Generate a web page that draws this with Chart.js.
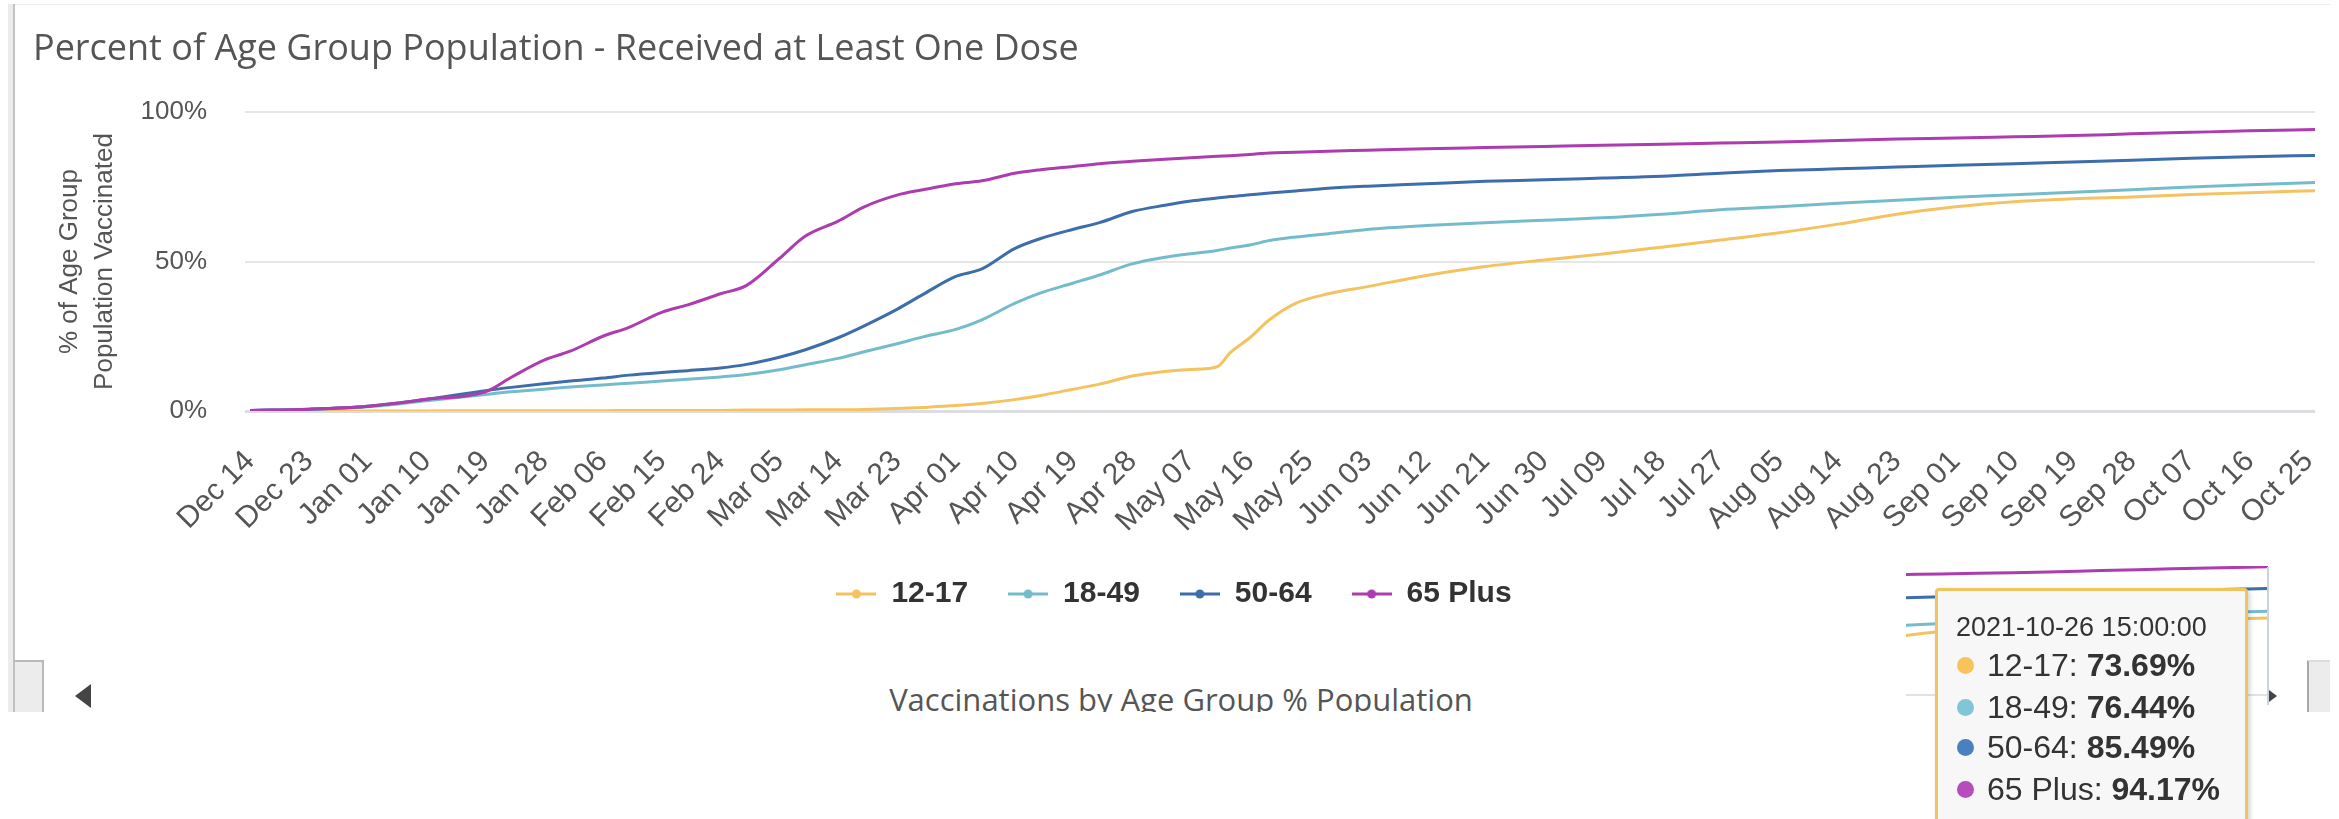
<!DOCTYPE html>
<html>
<head>
<meta charset="utf-8">
<title>Percent of Age Group Population - Received at Least One Dose</title>
<script src="https://cdn.jsdelivr.net/npm/chart.js@4.4.1/dist/chart.umd.min.js"></script>
<style>
  html, body { margin: 0; padding: 0; background: #fff; width: 2339px; height: 819px; overflow: hidden; }
  .abs { position: absolute; }
  #chartBox { left: 33px; top: 0; width: 2297px; height: 619px; }
  #miniBox { left: 1906px; top: 566px; width: 362px; height: 140px; }
  #frameTop { left: 13px; top: 4px; width: 2317px; height: 1px; background: #ececec; }
  #frameLeft { left: 13px; top: 4px; width: 2px; height: 656px; background: #c2c2c2; }
  #frameLeftShade { left: 8px; top: 4px; width: 5px; height: 708px; background: #ececec; }
  #cornerLeft { left: 13px; top: 660px; width: 31px; height: 52px; background: #ececec; border-top: 2px solid #b9b9b9; border-right: 2px solid #b9b9b9; box-sizing: border-box; border-left: 2px solid #c2c2c2; }
  #cornerRight { left: 2307px; top: 660px; width: 23px; height: 52px; background: #ececec; border-left: 2px solid #a9a9a9; border-top: 2px solid #dcdcdc; box-sizing: border-box; }
  #arrowLeft { left: 75px; top: 684px; width: 0; height: 0; border-top: 12px solid transparent; border-bottom: 12px solid transparent; border-right: 16px solid #444; }
  #arrowRight { left: 2269px; top: 690px; width: 0; height: 0; border-top: 6px solid transparent; border-bottom: 6px solid transparent; border-left: 8px solid #444; }
  #navClip { left: 0; top: 660px; width: 2339px; height: 52px; overflow: hidden; }
  #navText { position: absolute; left: 0; width: 2362px; top: 21px; text-align: center; font: 31px/36px "Open Sans", sans-serif; color: #555; }
  #hoverV { left: 2267px; top: 567px; width: 2px; height: 138px; background: #c9d2e2; }
  #hoverH { left: 1906px; top: 694px; width: 362px; height: 2px; background: #e2e2e2; }
  #tip { left: 1935px; top: 588px; width: 313px; height: 262px; box-sizing: border-box; border: 3px solid #f2c45f; border-radius: 4px; background: #f7f7f7; box-shadow: 2px 2px 5px rgba(0,0,0,0.18); font-family: "Liberation Sans", Arial, sans-serif; color: #333; }
  #tipTitle { position: absolute; left: 18px; top: 20px; font-size: 27px; line-height: 32px; white-space: nowrap; }
  .tipRow { position: absolute; left: 0; font-size: 32px; line-height: 41px; white-space: nowrap; }
  .tipRow .dot { position: absolute; left: 19px; top: 12px; width: 17px; height: 17px; border-radius: 50%; }
  .tipRow .txt { position: absolute; left: 49px; top: 0; }
  .tipRow b { font-weight: bold; }
</style>
</head>
<body>
<div id="frameTop" class="abs"></div>
<div id="frameLeftShade" class="abs"></div>
<div id="frameLeft" class="abs"></div>
<div id="cornerLeft" class="abs"></div>
<div id="cornerRight" class="abs"></div>
<div id="navClip" class="abs"><div id="navText">Vaccinations by Age Group % Population</div></div>
<div id="arrowLeft" class="abs"></div>
<div id="arrowRight" class="abs"></div>

<div id="chartBox" class="abs"><canvas id="myLineChart" width="2297" height="619"></canvas></div>

<div id="hoverH" class="abs"></div>
<div id="miniBox" class="abs"><canvas id="miniChart" width="362" height="140"></canvas></div>
<div id="hoverV" class="abs"></div>

<div id="tip" class="abs">
  <div id="tipTitle"></div>
</div>

<script>
// days after 2020-12-14
const days = [0, 9, 18, 27, 36, 40, 45, 49, 54, 58, 63, 67, 72, 76, 81, 85, 90, 94, 99, 103,
  108, 112, 117, 121, 126, 130, 135, 140, 144, 148, 150, 153, 156, 160, 165, 171, 180, 189, 198, 207,
  216, 225, 234, 243, 252, 261, 270, 279, 288, 297, 306, 316];

const age12to17 = [0, 0, 0, 0, 0.1, 0.1, 0.1, 0.1, 0.1, 0.2, 0.2, 0.2, 0.2, 0.3, 0.3, 0.4, 0.4, 0.5, 0.8, 1.2,
  1.8, 2.5, 3.8, 5.2, 7.3, 9.0, 11.7, 13.2, 13.9, 14.8, 19.5, 24.5, 30.5, 36.0, 39.2, 41.6, 45.3, 48.3, 50.5, 52.5,
  54.8, 57.2, 59.6, 62.5, 65.8, 68.3, 70.0, 71.0, 71.6, 72.4, 73.0, 73.69];

const age18to49 = [0.2, 0.5, 1.4, 3.4, 5.5, 6.4, 7.3, 8.0, 8.7, 9.3, 10.0, 10.6, 11.4, 12.2, 13.8, 15.5, 17.6, 19.8, 22.5, 24.8,
  27.3, 30.5, 36.0, 39.5, 42.8, 45.5, 49.2, 51.4, 52.6, 53.7, 54.5, 55.5, 57.0, 58.2, 59.3, 60.7, 62.0, 63.0, 63.8, 64.6,
  65.8, 67.3, 68.3, 69.5, 70.5, 71.5, 72.3, 73.2, 74.0, 74.9, 75.7, 76.44];

const age50to64 = [0.2, 0.6, 1.6, 3.9, 6.8, 7.9, 9.1, 10.0, 11.0, 12.0, 12.9, 13.5, 14.4, 15.6, 18.0, 20.5, 24.5, 28.5, 34.0, 39.0,
  45.0, 47.5, 54.3, 57.7, 60.8, 63.0, 66.7, 68.8, 70.2, 71.2, 71.7, 72.3, 72.9, 73.6, 74.5, 75.2, 76.0, 76.8, 77.3, 77.9,
  78.5, 79.5, 80.4, 81.0, 81.6, 82.2, 82.7, 83.3, 83.9, 84.5, 85.0, 85.49];

const age65plus = [0.2, 0.6, 1.6, 3.9, 6.4, 11.3, 17.0, 20.0, 25.0, 28.0, 33.0, 35.5, 39.2, 42.0, 51.0, 58.5, 63.5, 68.3, 72.2, 74.0,
  76.0, 77.0, 79.5, 80.7, 81.8, 82.7, 83.5, 84.2, 84.7, 85.2, 85.4, 85.8, 86.3, 86.5, 86.9, 87.2, 87.7, 88.1, 88.5, 88.9,
  89.2, 89.6, 90.0, 90.5, 91.0, 91.3, 91.7, 92.1, 92.7, 93.2, 93.7, 94.17];

const seriesNames = ['12-17', '18-49', '50-64', '65 Plus'];
const seriesColors = ['#f4c25f', '#74bccc', '#3d6dab', '#ad3caf'];
const dotColors = ['#f9c35c', '#80c6d6', '#4a7fc0', '#b84cbc'];

const tickLabels = ['Dec 14', 'Dec 23', 'Jan 01', 'Jan 10', 'Jan 19', 'Jan 28', 'Feb 06', 'Feb 15', 'Feb 24',
  'Mar 05', 'Mar 14', 'Mar 23', 'Apr 01', 'Apr 10', 'Apr 19', 'Apr 28', 'May 07', 'May 16', 'May 25',
  'Jun 03', 'Jun 12', 'Jun 21', 'Jun 30', 'Jul 09', 'Jul 18', 'Jul 27', 'Aug 05', 'Aug 14', 'Aug 23',
  'Sep 01', 'Sep 10', 'Sep 19', 'Sep 28', 'Oct 07', 'Oct 16', 'Oct 25'];
const yTicks = [0, 50, 100];
const tooltipTime = '2021-10-26 15:00:00';

const allSeries = [age12to17, age18to49, age50to64, age65plus];

function makeMarker(color) {
  const c = document.createElement('canvas');
  c.width = 40;
  c.height = 12;
  const g = c.getContext('2d');
  g.strokeStyle = color;
  g.lineWidth = 3;
  g.beginPath();
  g.moveTo(0, 6);
  g.lineTo(40, 6);
  g.stroke();
  g.fillStyle = color;
  g.beginPath();
  g.arc(20, 6, 4.5, 0, Math.PI * 2);
  g.fill();
  return c;
}

function buildDatasets(width) {
  return allSeries.map((values, i) => ({
    label: seriesNames[i],
    data: values.map((v, j) => ({ x: days[j], y: v })),
    borderColor: seriesColors[i],
    backgroundColor: seriesColors[i],
    borderWidth: width,
    pointRadius: 0,
    pointStyle: makeMarker(seriesColors[i]),
    fill: false,
    cubicInterpolationMode: 'monotone',
    order: 3 - i
  }));
}

Chart.defaults.font.family = '"Liberation Sans", Arial, sans-serif';
Chart.defaults.color = '#555';

new Chart(document.getElementById('myLineChart'), {
  type: 'line',
  data: { datasets: buildDatasets(3) },
  options: {
    responsive: false,
    animation: false,
    events: [],
    layout: { padding: { left: 0, right: 15, top: 0, bottom: 0 } },
    plugins: {
      title: {
        display: true,
        text: 'Percent of Age Group Population - Received at Least One Dose',
        align: 'start',
        color: '#555',
        font: { family: '"Open Sans", sans-serif', size: 36, weight: 'normal', lineHeight: 1.2 },
        padding: { top: 28, bottom: 40.8 }
      },
      legend: {
        position: 'bottom',
        labels: {
          usePointStyle: true,
          pointStyleWidth: 40,
          padding: 40,
          color: '#333',
          font: { size: 30, weight: 'bold' },
          sort: (a, b) => a.datasetIndex - b.datasetIndex
        }
      },
      tooltip: { enabled: false }
    },
    scales: {
      x: {
        type: 'linear',
        min: 0,
        max: 316,
        grid: { display: false },
        border: { display: false },
        ticks: {
          stepSize: 9,
          includeBounds: false,
          autoSkip: false,
          maxRotation: 45,
          minRotation: 45,
          padding: 25,
          color: '#555',
          font: { size: 30 },
          callback: (value) => (value % 9 === 0 ? tickLabels[value / 9] : '')
        },
        afterFit: (scale) => {
          scale.height = 128;
          scale.paddingLeft = 0;
          scale.paddingRight = 0;
        }
      },
      y: {
        min: 0,
        max: 100,
        border: { display: false },
        grid: {
          color: (ctx) => (ctx.tick && ctx.tick.value === 0 ? '#dcdde3' : '#e6e6e6'),
          lineWidth: (ctx) => (ctx.tick && ctx.tick.value === 0 ? 3 : 2),
          drawTicks: true,
          tickLength: 5
        },
        afterBuildTicks: (scale) => { scale.ticks = yTicks.map(v => ({ value: v })); },
        ticks: {
          padding: 38,
          color: '#555',
          font: { size: 26 },
          callback: (value) => value + '%'
        },
        title: {
          display: true,
          text: ['% of Age Group', 'Population Vaccinated'],
          color: '#555',
          font: { size: 26, lineHeight: 1.35 },
          padding: { top: 19.5, bottom: 0 }
        },
        afterFit: (scale) => { scale.width = 217; }
      }
    }
  }
});

// zoomed tail of the same series, shown behind the hover box
new Chart(document.getElementById('miniChart'), {
  type: 'line',
  data: { datasets: buildDatasets(3) },
  options: {
    responsive: false,
    animation: false,
    events: [],
    layout: { padding: 0 },
    plugins: { legend: { display: false }, title: { display: false }, tooltip: { enabled: false } },
    scales: {
      x: { type: 'linear', min: 255, max: 316, display: false },
      y: { min: 38.5, max: 94.5, display: false }
    }
  }
});

// hover box with the last values
const tip = document.getElementById('tip');
document.getElementById('tipTitle').textContent = tooltipTime;
const rowTops = [54, 96, 136, 178];
allSeries.forEach((values, i) => {
  const row = document.createElement('div');
  row.className = 'tipRow';
  row.style.top = rowTops[i] + 'px';
  const dot = document.createElement('span');
  dot.className = 'dot';
  dot.style.background = dotColors[i];
  const txt = document.createElement('span');
  txt.className = 'txt';
  txt.innerHTML = seriesNames[i] + ': <b>' + values[values.length - 1].toFixed(2) + '%</b>';
  row.appendChild(dot);
  row.appendChild(txt);
  tip.appendChild(row);
});
</script>
</body>
</html>
